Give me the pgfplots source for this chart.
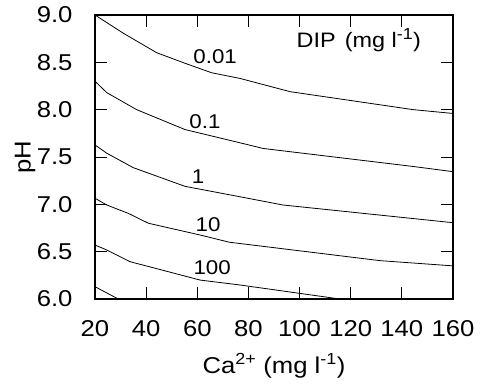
\documentclass[border=0pt]{standalone}
\usepackage{pgfplots}
\pgfplotsset{compat=1.18}
\usepackage{fontspec}
\setmainfont{Liberation Sans}[FakeStretch=1.12]
\begin{document}
\begin{tikzpicture}[x=1bp,y=1bp]
\begin{axis}[
 at={(0,0)}, anchor=south west,
 scale only axis, width=358bp, height=284bp,
 xmin=20, xmax=160, ymin=6, ymax=9,
 xtick={20,40,60,80,100,120,140,160},
 ytick={6,6.5,7,7.5,8,8.5,9},
 yticklabel style={xshift=-19bp, /pgf/number format/fixed, /pgf/number format/fixed zerofill, /pgf/number format/precision=1},
 /pgf/number format/assume math mode=true,
 tick align=inside, major tick length=12bp,
 axis line style={line width=1.2bp},
 every tick/.style={black, line width=1bp},
 ticklabel style={font=\fontsize{23}{26}\selectfont},
 xticklabel style={yshift=-18bp},
 xlabel={Ca\textsuperscript{2+} (mg l\textsuperscript{-1})},
 ylabel={pH},
 label style={font=\fontsize{23}{26}\selectfont},
 xlabel style={at={(axis description cs:0.5,-0.236)}, anchor=center},
 ylabel style={at={(axis description cs:-0.1955,0.5)}, anchor=center},
 clip=true,
]
\addplot[black, line width=0.8bp] coordinates {(20,9.0) (31.1,8.807) (44.1,8.602) (55.2,8.49) (65.6,8.39) (76.7,8.33) (96.3,8.19) (144.5,8.0) (160,7.96)};
\addplot[black, line width=0.8bp] coordinates {(20,8.30) (24.6,8.18) (36.3,8.0) (55.2,7.79) (76.7,7.65) (85.8,7.59) (144.4,7.40) (160,7.345)};
\addplot[black, line width=0.8bp] coordinates {(20,7.627) (24.6,7.54) (35,7.387) (55.2,7.19) (76.7,7.08) (93.5,6.993) (160,6.806)};
\addplot[black, line width=0.8bp] coordinates {(20,7.064) (24.6,6.993) (33,6.905) (40.9,6.80) (61.1,6.676) (72.5,6.60) (131.5,6.405) (160,6.35)};
\addplot[black, line width=0.8bp] coordinates {(20,6.57) (24.6,6.518) (33.7,6.394) (42.8,6.33) (61.1,6.20) (76.7,6.148) (115.8,6.0)};
\addplot[black, line width=0.8bp] coordinates {(20,6.13) (29.1,6.0)};
\node[font=\fontsize{20}{22}\selectfont] at (axis cs:67,8.56) {0.01};
\node[font=\fontsize{20}{22}\selectfont] at (axis cs:63,7.87) {0.1};
\node[font=\fontsize{20}{22}\selectfont] at (axis cs:60.3,7.29) {1};
\node[font=\fontsize{20}{22}\selectfont] at (axis cs:64.2,6.79) {10};
\node[font=\fontsize{20}{22}\selectfont] at (axis cs:65.8,6.33) {100};
\node[font=\fontsize{21}{23}\selectfont] at (axis cs:123.2,8.736) {DIP\hspace{9bp}(mg l\textsuperscript{\fontsize{16}{18}\selectfont -1})};
\end{axis}
\path (-95bp,-86bp) rectangle (385bp,299bp);
\end{tikzpicture}
\end{document}
